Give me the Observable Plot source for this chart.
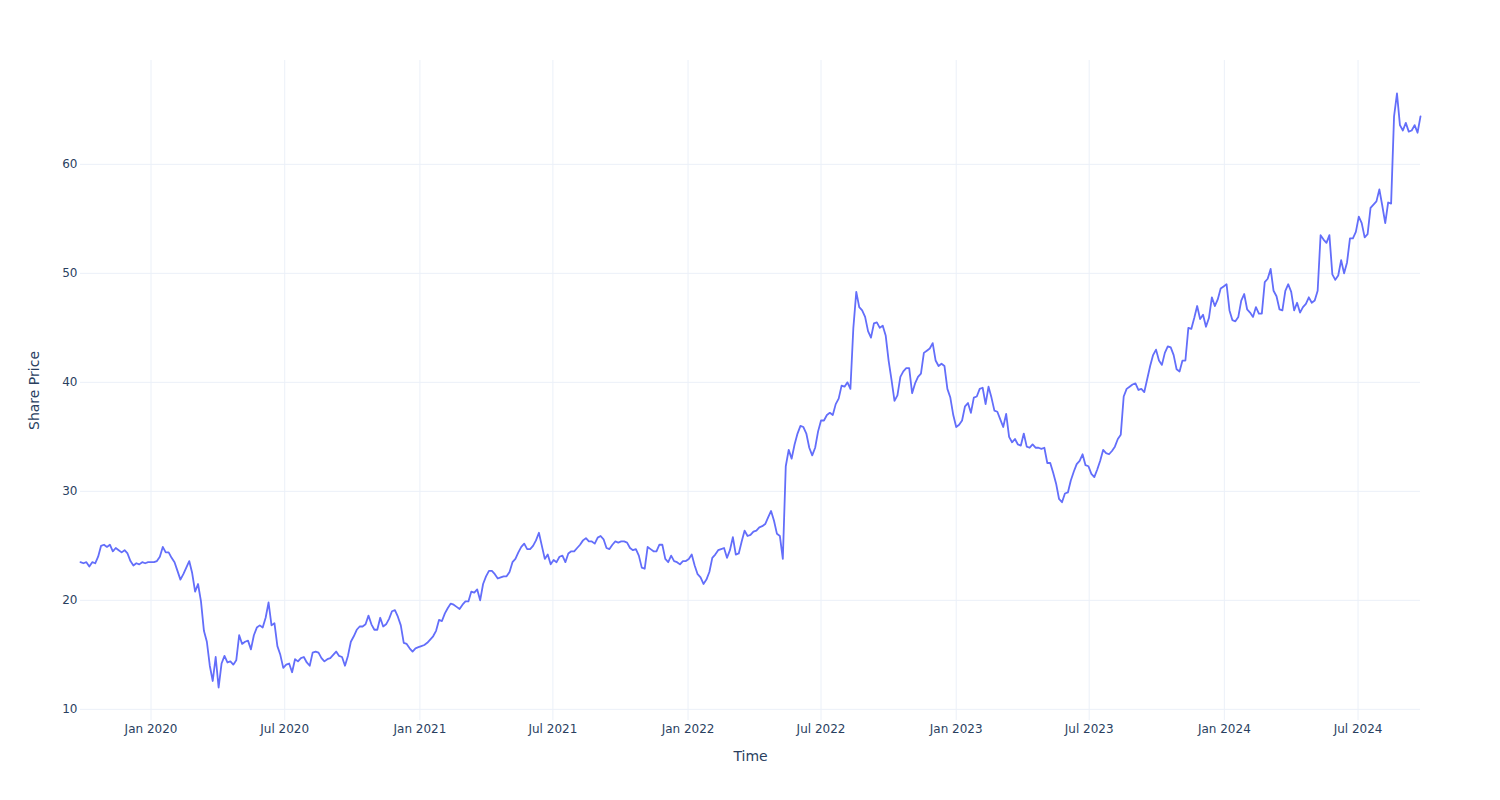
<!DOCTYPE html>
<html>
<head>
<meta charset="utf-8">
<script src="https://cdn.jsdelivr.net/npm/d3@7"></script>
<script src="https://cdn.jsdelivr.net/npm/@observablehq/plot@0.6"></script>
<style>
  html, body { margin: 0; padding: 0; background: #fff; }
  #chart { width: 1500px; height: 800px; }
</style>
</head>
<body>
<div id="chart"></div>
<script>
// Share price series sampled every 4 calendar days
const startDate = "2019-09-27";
const stepDays = 4;
const prices = [
  23.5,23.4,23.5,23.1,23.5,23.4,24.0,25.0,25.1,24.9,
  25.1,24.5,24.8,24.6,24.4,24.6,24.3,23.6,23.2,23.4,
  23.3,23.5,23.4,23.5,23.5,23.5,23.6,24.0,24.9,24.4,
  24.4,23.9,23.5,22.7,21.9,22.4,23.0,23.6,22.5,20.8,
  21.5,19.9,17.2,16.2,14.0,12.6,14.8,12.0,14.2,14.9,
  14.3,14.4,14.1,14.5,16.8,16.0,16.2,16.3,15.5,16.8,
  17.5,17.7,17.5,18.4,19.8,17.7,17.9,15.8,15.0,13.8,
  14.1,14.2,13.4,14.6,14.4,14.7,14.8,14.3,14.0,15.2,
  15.3,15.2,14.7,14.4,14.6,14.7,15.0,15.3,14.9,14.8,
  14.0,14.9,16.2,16.7,17.3,17.6,17.6,17.8,18.6,17.8,
  17.3,17.3,18.4,17.6,17.8,18.3,19.0,19.1,18.5,17.7,
  16.1,16.0,15.6,15.3,15.6,15.7,15.8,15.9,16.1,16.4,
  16.7,17.2,18.2,18.1,18.8,19.3,19.7,19.6,19.4,19.2,
  19.6,19.9,19.9,20.8,20.7,21.0,20.0,21.5,22.2,22.7,
  22.7,22.4,22.0,22.1,22.2,22.2,22.6,23.5,23.8,24.4,
  24.9,25.2,24.7,24.7,25.0,25.5,26.2,25.0,23.8,24.2,
  23.3,23.7,23.5,24.0,24.1,23.5,24.3,24.5,24.5,24.8,
  25.1,25.5,25.7,25.4,25.4,25.2,25.75,25.9,25.6,24.8,
  24.7,25.1,25.4,25.3,25.4,25.4,25.3,24.8,24.6,24.7,
  24.1,23.0,22.9,24.9,24.7,24.5,24.5,25.1,25.1,23.8,
  23.5,24.1,23.6,23.5,23.3,23.6,23.6,23.8,24.2,23.2,
  22.4,22.1,21.5,21.9,22.6,23.9,24.2,24.6,24.7,24.8,
  23.9,24.6,25.8,24.2,24.3,25.4,26.4,25.9,26.0,26.3,
  26.4,26.7,26.8,27.0,27.6,28.2,27.3,26.1,25.9,23.8,
  32.3,33.8,33.0,34.3,35.3,36.0,35.9,35.3,34.0,33.3,
  34.0,35.5,36.5,36.5,37.0,37.2,37.0,38.0,38.5,39.7,
  39.6,40.0,39.4,45.0,48.3,46.9,46.6,46.0,44.7,44.1,
  45.4,45.5,45.0,45.2,44.3,42.0,40.2,38.3,38.8,40.5,
  41.0,41.3,41.3,39.0,39.9,40.5,40.8,42.7,42.9,43.1,
  43.6,42.0,41.5,41.7,41.5,39.4,38.6,37.0,35.9,36.1,
  36.5,37.8,38.1,37.2,38.6,38.7,39.4,39.5,38.0,39.6,
  38.6,37.4,37.3,36.6,35.9,37.1,35.0,34.5,34.8,34.3,
  34.2,35.3,34.1,34.0,34.3,34.0,34.0,33.9,34.0,32.6,
  32.6,31.7,30.7,29.3,29.0,29.8,29.9,31.0,31.8,32.5,
  32.8,33.4,32.4,32.3,31.6,31.3,32.0,32.8,33.8,33.5,
  33.4,33.7,34.1,34.8,35.2,38.7,39.4,39.6,39.8,39.9,
  39.3,39.4,39.1,40.3,41.5,42.5,43.0,42.0,41.6,42.7,
  43.3,43.2,42.5,41.2,41.0,42.0,42.0,45.0,44.9,45.9,
  47.0,45.8,46.2,45.1,45.9,47.8,47.0,47.6,48.6,48.8,
  49.0,46.6,45.7,45.6,46.0,47.5,48.1,46.7,46.4,46.0,
  46.9,46.3,46.3,49.2,49.5,50.4,48.4,47.9,46.7,46.6,
  48.4,49.0,48.3,46.6,47.3,46.4,46.9,47.2,47.8,47.3,
  47.5,48.4,53.5,53.1,52.8,53.5,49.9,49.4,49.8,51.2,
  50.0,51.0,53.2,53.2,53.8,55.2,54.6,53.3,53.6,56.0,
  56.3,56.6,57.7,56.2,54.6,56.5,56.4,64.4,66.5,63.6,
  63.1,63.8,63.0,63.1,63.6,62.9,64.4
];

const tickDates = ["2020-01-01","2020-07-01","2021-01-01","2021-07-01","2022-01-01",
                   "2022-07-01","2023-01-01","2023-07-01","2024-01-01","2024-07-01"];
const tickLabels = ["Jan 2020","Jul 2020","Jan 2021","Jul 2021","Jan 2022",
                    "Jul 2022","Jan 2023","Jul 2023","Jan 2024","Jul 2024"];
const yTicks = [10, 20, 30, 40, 50, 60];
const xTitle = "Time";
const yTitle = "Share Price";

const start = new Date(startDate + "T00:00:00Z");
const series = prices.map((p, i) => ({date: d3.utcDay.offset(start, i * stepDays), price: p}));
const tickDateObjs = tickDates.map(s => new Date(s + "T00:00:00Z"));
const labelFor = new Map(tickDateObjs.map((d, i) => [+d, tickLabels[i]]));

const [lo, hi] = d3.extent(prices);
const pad = (hi - lo) * 0.0555;

const ink = "#2a3f5f";
const grid = "#ebf0f8";

const chart = Plot.plot({
  width: 1500,
  height: 800,
  marginLeft: 80,
  marginRight: 80,
  marginTop: 60,
  marginBottom: 80,
  style: {fontFamily: "'DejaVu Sans', Verdana, sans-serif", fontSize: "12px", color: ink, background: "#ffffff"},
  x: {type: "utc", domain: [series[0].date, series[series.length - 1].date]},
  y: {domain: [lo - pad, hi + pad]},
  marks: [
    Plot.gridX(tickDateObjs, {stroke: grid, strokeOpacity: 1, strokeWidth: 1}),
    Plot.gridY(yTicks, {stroke: grid, strokeOpacity: 1, strokeWidth: 1}),
    Plot.axisX(tickDateObjs, {tickSize: 0, tickPadding: 4, tickFormat: d => labelFor.get(+d), label: null, fill: ink}),
    Plot.axisY(yTicks, {tickSize: 0, tickPadding: 3, label: null, fill: ink}),
    Plot.lineY(series, {x: "date", y: "price", stroke: "#636efa", strokeWidth: 1.8}),
    Plot.text([xTitle], {text: d => d, frameAnchor: "bottom", lineAnchor: "middle", textAnchor: "middle", dy: 36, fontSize: 14, fill: ink}),
    Plot.text([yTitle], {text: d => d, frameAnchor: "left", lineAnchor: "middle", textAnchor: "middle", dx: -46, rotate: -90, fontSize: 14, fill: ink})
  ]
});
document.getElementById("chart").appendChild(chart);
</script>
</body>
</html>
